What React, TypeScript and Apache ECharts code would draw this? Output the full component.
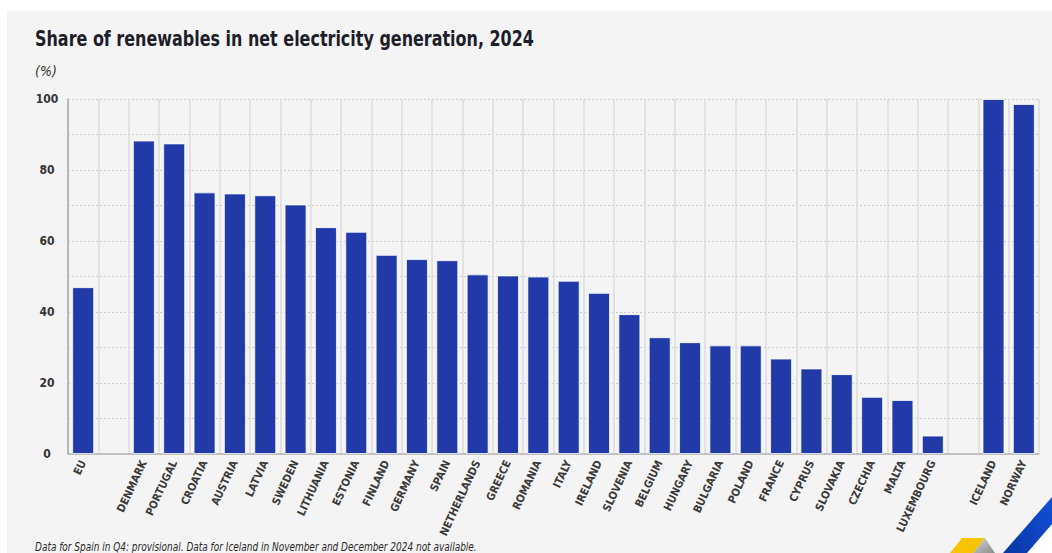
import React, { useEffect, useRef } from "react";
import * as echarts from "echarts";

// Share of renewables in net electricity generation, 2024 (%)
const euNames = ["EU"];
const euValues = [47.0];

const countryNames = [
  "DENMARK", "PORTUGAL", "CROATIA", "AUSTRIA", "LATVIA", "SWEDEN", "LITHUANIA",
  "ESTONIA", "FINLAND", "GERMANY", "SPAIN", "NETHERLANDS", "GREECE", "ROMANIA",
  "ITALY", "IRELAND", "SLOVENIA", "BELGIUM", "HUNGARY", "BULGARIA", "POLAND",
  "FRANCE", "CYPRUS", "SLOVAKIA", "CZECHIA", "MALTA", "LUXEMBOURG",
];
const countryValues = [
  88.3, 87.5, 73.7, 73.4, 72.9, 70.3, 63.9,
  62.6, 56.1, 54.9, 54.6, 50.6, 50.3, 50.0,
  48.8, 45.4, 39.4, 32.9, 31.5, 30.6, 30.6,
  26.9, 24.1, 22.5, 16.1, 15.2, 5.2,
];

const eftaNames = ["ICELAND", "NORWAY"];
const eftaValues = [100, 98.6];

const yTicks = [0, 20, 40, 60, 80, 100];

const TITLE = "Share of renewables in net electricity generation, 2024";
const UNIT = "(%)";
const NOTE =
  "Data for Spain in Q4: provisional. Data for Iceland in November and December 2024 not available.";

const FONT = '"DejaVu Sans Condensed", "Liberation Sans Narrow", Roboto, sans-serif';

// empty slots separate the EU aggregate, the member states and the EFTA countries
const GAP1 = "__gap1";
const GAP2 = "__gap2";
const categories = [...euNames, GAP1, ...countryNames, GAP2, ...eftaNames];
const values: (number | null)[] = [...euValues, null, ...countryValues, null, ...eftaValues];

export default function App() {
  const ref = useRef<HTMLDivElement>(null);

  useEffect(() => {
    if (!ref.current) return;
    const chart = echarts.init(ref.current, undefined, { renderer: "svg" });
    chart.setOption({
      animation: false,
      backgroundColor: "#f4f4f4",
      textStyle: { fontFamily: FONT },
      grid: { left: 68, right: 13, top: 99, bottom: 99, containLabel: false },
      xAxis: {
        type: "category",
        data: categories,
        boundaryGap: true,
        axisLine: { show: true, lineStyle: { color: "#b4b4b4", width: 1.5 } },
        axisTick: { show: false },
        splitLine: { show: true, interval: 0, lineStyle: { color: "#dcdcdc", width: 1.5, type: "solid" } },
        axisLabel: {
          interval: 0,
          rotate: 65,
          margin: 7,
          fontFamily: FONT,
          fontSize: 11,
          fontWeight: "bold",
          color: "#3a3a3a",
          formatter: (v: string) => (v.startsWith("__") ? "" : v),
        },
      },
      yAxis: {
        type: "value",
        min: 0,
        max: 100,
        interval: 10,
        axisLine: { show: true, lineStyle: { color: "#a8a8a8", width: 1.5 } },
        axisTick: { show: false },
        splitLine: { show: true, lineStyle: { color: "#c9c9c9", type: [2, 2], width: 1 } },
        axisLabel: {
          align: "center",
          margin: 21,
          fontFamily: FONT,
          fontSize: 12,
          fontWeight: "bold",
          color: "#333",
          formatter: (v: number) => (yTicks.includes(v) ? String(v) : ""),
        },
      },
      series: [
        {
          type: "bar",
          data: values,
          barWidth: 22,
          itemStyle: { color: "#213aa7", borderColor: "rgba(255,255,255,0.75)", borderWidth: 1 },
        },
      ],
      graphic: [
        // white page margin above and left of the panel
        { type: "rect", left: 0, top: 0, shape: { width: 1052, height: 11 }, style: { fill: "#ffffff" }, silent: true },
        { type: "rect", left: 0, top: 0, shape: { width: 7, height: 553 }, style: { fill: "#ffffff" }, silent: true },
        {
          type: "text",
          x: 35,
          y: 39,
          scaleX: 0.845,
          style: { text: TITLE, font: `bold 21px ${FONT}`, fill: "#1e1e2a", verticalAlign: "middle" },
        },
        {
          type: "text",
          x: 35,
          y: 71,
          style: { text: UNIT, font: `italic 14px ${FONT}`, fill: "#333", verticalAlign: "middle" },
        },
        {
          type: "text",
          x: 35,
          y: 547,
          scaleX: 0.83,
          style: { text: NOTE, font: `italic 12px ${FONT}`, fill: "#2a2a2a", verticalAlign: "middle" },
        },
        // corner logo
        {
          type: "polygon",
          shape: { points: [[962, 538], [985, 538], [973, 553], [950, 553]] },
          style: { fill: "#f6c400" },
        },
        {
          type: "polygon",
          shape: { points: [[985, 538], [973, 553], [995, 553]] },
          style: {
            fill: new echarts.graphic.LinearGradient(0, 0, 1, 1, [
              { offset: 0, color: "#d6d6d6" },
              { offset: 1, color: "#8c8c8c" },
            ]),
          },
        },
        {
          type: "polygon",
          shape: { points: [[1027, 553], [1052, 524], [1052, 553]] },
          style: { fill: "#ffffff" },
        },
        {
          type: "polygon",
          shape: { points: [[1003, 553], [1027, 553], [1052, 524], [1052, 497]] },
          style: {
            fill: new echarts.graphic.LinearGradient(0, 1, 1, 0, [
              { offset: 0, color: "#0a36a6" },
              { offset: 1, color: "#1150d6" },
            ]),
          },
        },
      ],
    });
    return () => chart.dispose();
  }, []);

  return (
    <div
      ref={ref}
      style={{ position: "fixed", left: 0, top: 0, width: 1052, height: 553, background: "#fff" }}
    />
  );
}
